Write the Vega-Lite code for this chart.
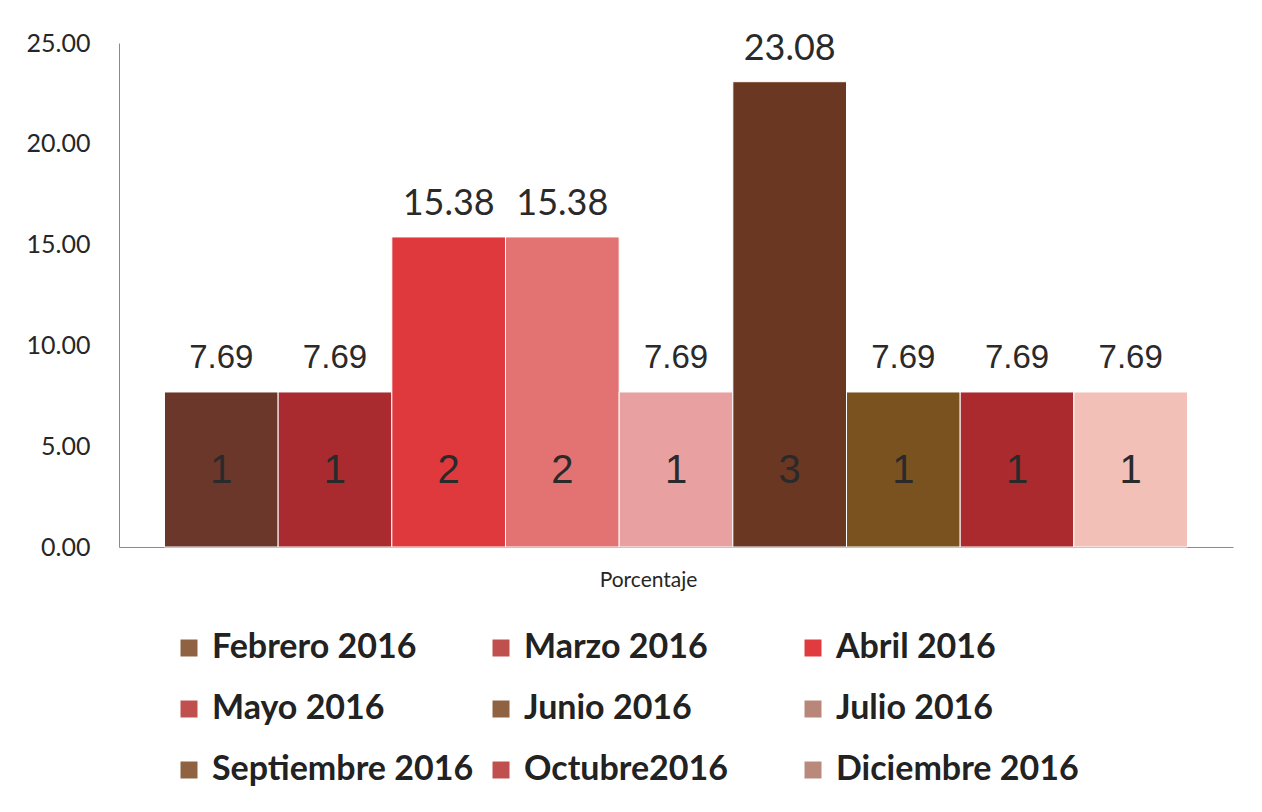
{
  "$schema": "https://vega.github.io/schema/vega-lite/v6.json",
  "autosize": {"type": "none"},
  "padding": {"left": 119, "top": 43, "right": 29, "bottom": 265},
  "width": 1114,
  "height": 504,
  "background": "white",
  "config": {"view": {"stroke": null}},
  "data": {
    "values": [
      {"mes": "Febrero 2016", "pct": 7.69, "n": 1},
      {"mes": "Marzo 2016", "pct": 7.69, "n": 1},
      {"mes": "Abril  2016", "pct": 15.38, "n": 2},
      {"mes": "Mayo 2016", "pct": 15.38, "n": 2},
      {"mes": "Junio 2016", "pct": 7.69, "n": 1},
      {"mes": "Julio 2016", "pct": 23.08, "n": 3},
      {"mes": "Septiembre 2016", "pct": 7.69, "n": 1},
      {"mes": "Octubre2016", "pct": 7.69, "n": 1},
      {"mes": "Diciembre 2016", "pct": 7.69, "n": 1}
    ]
  },
  "resolve": {"scale": {"color": "independent"}, "legend": {"color": "independent"}},
  "encoding": {
    "x": {
      "field": "mes",
      "type": "nominal",
      "sort": null,
      "scale": {"paddingInner": 0, "paddingOuter": 0.4},
      "axis": {
        "title": "Porcentaje",
        "labels": false,
        "ticks": false,
        "domainColor": "#8a8a8a",
        "titleFont": "Lato",
        "titleFontSize": 21,
        "titleFontWeight": "normal",
        "titleColor": "#262626",
        "titlePadding": 22,
        "titleX": 529,
        "titleAlign": "center"
      }
    }
  },
  "layer": [
    {
      "mark": {"type": "bar", "stroke": "white", "strokeWidth": 1},
      "encoding": {
        "y": {
          "field": "pct",
          "type": "quantitative",
          "scale": {"domain": [0, 25], "nice": false},
          "axis": {
            "title": null,
            "values": [0, 5, 10, 15, 20, 25],
            "format": ".2f",
            "grid": false,
            "ticks": false,
            "labelFont": "Lato",
            "labelFontSize": 25,
            "labelColor": "#262626",
            "labelPadding": 29,
            "domainColor": "#8a8a8a"
          }
        },
        "color": {
          "field": "mes",
          "type": "nominal",
          "sort": null,
          "scale": {
            "domain": ["Febrero 2016", "Marzo 2016", "Abril  2016", "Mayo 2016", "Junio 2016", "Julio 2016", "Septiembre 2016", "Octubre2016", "Diciembre 2016"],
            "range": ["#6b372b", "#a92a2f", "#e0393d", "#e37373", "#e9a0a0", "#6a3722", "#7a5220", "#aa2a2e", "#f3c0b8"]
          },
          "legend": null
        }
      }
    },
    {
      "mark": {"type": "square", "opacity": 0, "size": 1},
      "encoding": {
        "y": {"datum": 0, "type": "quantitative"},
        "color": {
          "field": "mes",
          "type": "nominal",
          "sort": null,
          "scale": {
            "domain": ["Febrero 2016", "Marzo 2016", "Abril  2016", "Mayo 2016", "Junio 2016", "Julio 2016", "Septiembre 2016", "Octubre2016", "Diciembre 2016"],
            "range": ["#8f6342", "#c0504d", "#e03c3f", "#c0504d", "#8f6342", "#b8877a", "#8f6342", "#c0504d", "#b98a7c"]
          },
          "legend": {
            "title": null,
            "orient": "none",
            "legendX": 53,
            "legendY": 588,
            "direction": "horizontal",
            "columns": 3,
            "gridAlign": "all",
            "columnPadding": 10,
            "rowPadding": 27,
            "padding": 0,
            "symbolType": "square",
            "symbolSize": 289,
            "symbolStrokeWidth": 0,
            "symbolOpacity": 1,
            "labelOffset": 6,
            "labelFont": "Lato",
            "labelFontSize": 34,
            "labelFontWeight": "bold",
            "labelColor": "#222222",
            "labelLimit": 0
          }
        }
      }
    },
    {
      "transform": [{"filter": "datum.pct < 10"}],
      "mark": {"type": "text", "font": "Liberation Sans", "fontSize": 33, "color": "#2a2a2a", "baseline": "alphabetic", "dy": -24},
      "encoding": {
        "y": {"field": "pct", "type": "quantitative"},
        "text": {"field": "pct", "type": "quantitative", "format": ".2f"}
      }
    },
    {
      "transform": [{"filter": "datum.pct >= 10"}],
      "mark": {"type": "text", "font": "Lato", "fontSize": 36, "color": "#2a2a2a", "baseline": "alphabetic", "dy": -22},
      "encoding": {
        "y": {"field": "pct", "type": "quantitative"},
        "text": {"field": "pct", "type": "quantitative", "format": ".2f"}
      }
    },
    {
      "mark": {"type": "text", "font": "Liberation Sans", "fontSize": 40, "color": "#2a2a2a", "baseline": "middle"},
      "encoding": {
        "y": {"datum": 3.75, "type": "quantitative"},
        "text": {"field": "n", "type": "quantitative"}
      }
    }
  ]
}
